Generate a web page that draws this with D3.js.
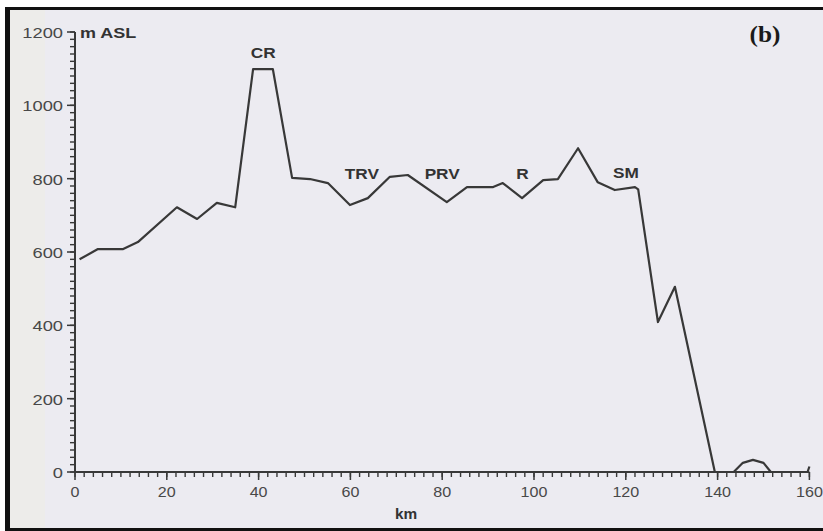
<!DOCTYPE html>
<html><head><meta charset="utf-8">
<script src="https://cdn.jsdelivr.net/npm/d3@7"></script>
<style>html,body{margin:0;padding:0;background:#fff;}svg{display:block;}</style>
</head><body>
<svg id="c" width="823" height="531"></svg>
<script>
// ---- data ----
const distanceKm = [1, 5, 10.5, 13.7, 22.2, 26.6, 30.9, 34.9, 38.8, 43.1, 47.3, 51.2, 55.1, 59.9, 63.8, 68.6, 72.5, 81.0, 85.4, 91.1, 93.2, 97.4, 102, 105.2, 109.6, 113.9, 117.6, 122, 122.7, 127, 130.7, 139.4, 143.5, 145.5, 147.7, 150, 151.6, 159.6, 160];
const elevationM = [580, 608, 608, 627, 722, 690, 734, 722, 1099, 1099, 802, 799, 788, 728, 747, 805, 810, 736, 777, 777, 788, 747, 796, 799, 883, 790, 769, 777, 771, 409, 505, 0, 0, 25, 33, 25, 0, 0, 15];
const regionLabels = ["CR", "TRV", "PRV", "R", "SM"];
const regionKm = [41, 62.5, 80, 97.5, 120];
const regionElev = [1145, 815, 815, 815, 818];
const yTickValues = [0, 200, 400, 600, 800, 1000, 1200];
const xTickValues = [0, 20, 40, 60, 80, 100, 120, 140, 160];
const yMinorTicks = d3.range(0, 1201, 20);
const xMinorTicks = d3.range(0, 161, 2);
const yUnit = "m ASL";
const xUnit = "km";
const panelTag = "(b)";

// ---- layout ----
const svg = d3.select("#c");
svg.append("rect").attr("x", 0).attr("y", 0).attr("width", 823).attr("height", 531).attr("fill", "#fff");
svg.append("rect").attr("x", 9).attr("y", 9).attr("width", 814).attr("height", 520).attr("fill", "#ecebf1");
svg.append("rect").attr("x", 9).attr("y", 9).attr("width", 36).attr("height", 520).attr("fill", "#eeece9").attr("opacity", 0.8);

const x = d3.scaleLinear().domain([0, 160]).range([75, 809.4]);
const y = d3.scaleLinear().domain([0, 1200]).range([472, 32]);
const ink = "#383838";

function stretchText(g, tx, ty, str, opts) {
  return g.append("text")
    .attr("transform", `translate(${tx},${ty}) scale(${opts.sx || 1},1)`)
    .attr("text-anchor", opts.anchor || "middle")
    .attr("dominant-baseline", "central")
    .attr("font-family", opts.family || "Liberation Sans, Arial, sans-serif")
    .attr("font-size", opts.size)
    .attr("font-weight", opts.weight || "normal")
    .attr("fill", opts.fill || ink)
    .text(str);
}

// y axis ticks
const axes = svg.append("g").attr("stroke", ink);
axes.selectAll("line.ymin").data(yMinorTicks).join("line").attr("class", "ymin")
  .attr("x1", x(0) - 5).attr("x2", x(0)).attr("y1", d => y(d)).attr("y2", d => y(d)).attr("stroke-width", 1.4);
axes.selectAll("line.ymaj").data(yTickValues).join("line").attr("class", "ymaj")
  .attr("x1", x(0) - 8).attr("x2", x(0)).attr("y1", d => y(d)).attr("y2", d => y(d)).attr("stroke-width", 1.5);
axes.append("line").attr("x1", x(0)).attr("x2", x(0)).attr("y1", y(1200)).attr("y2", y(0)).attr("stroke-width", 2);
// x axis ticks
axes.selectAll("line.xmin").data(xMinorTicks).join("line").attr("class", "xmin")
  .attr("x1", d => x(d)).attr("x2", d => x(d)).attr("y1", y(0)).attr("y2", y(0) + 5).attr("stroke-width", 1.4);
axes.selectAll("line.xmaj").data(xTickValues).join("line").attr("class", "xmaj")
  .attr("x1", d => x(d)).attr("x2", d => x(d)).attr("y1", y(0)).attr("y2", y(0) + 8).attr("stroke-width", 1.5);
axes.append("line").attr("x1", x(0) - 1).attr("x2", x(160)).attr("y1", y(0)).attr("y2", y(0)).attr("stroke-width", 2);

yTickValues.forEach(v => stretchText(svg, 63, y(v) + 1, String(v), {size: 15, sx: 1.22, anchor: "end", fill: "#484848"}));
xTickValues.forEach(v => stretchText(svg, x(v), 492, String(v), {size: 14, sx: 1.15, fill: "#484848"}));

// profile line
const pts = distanceKm.map((d, i) => [d, elevationM[i]]);
svg.append("path").datum(pts)
  .attr("d", d3.line().x(d => x(d[0])).y(d => y(d[1])))
  .attr("fill", "none").attr("stroke", ink).attr("stroke-width", 2.2).attr("stroke-linejoin", "round");

// labels
regionLabels.forEach((t, i) => stretchText(svg, x(regionKm[i]), y(regionElev[i]), t, {size: 15, sx: 1.15, weight: "bold", fill: "#333"}));
stretchText(svg, 80, 33, yUnit, {size: 15, sx: 1.2, weight: "bold", anchor: "start", fill: "#333"});
stretchText(svg, 406, 514, xUnit, {size: 14, sx: 1.1, weight: "bold", fill: "#333"});
stretchText(svg, 765, 34, panelTag, {size: 23, sx: 1.1, weight: "bold", family: "Liberation Serif, Times New Roman, serif", fill: "#1a1a1a"});

// frame
svg.append("line").attr("x1", 5).attr("x2", 823).attr("y1", 8.5).attr("y2", 8.5).attr("stroke", "#111").attr("stroke-width", 3);
svg.append("line").attr("x1", 7.5).attr("x2", 7.5).attr("y1", 7).attr("y2", 531).attr("stroke", "#111").attr("stroke-width", 5);
svg.append("line").attr("x1", 5).attr("x2", 823).attr("y1", 529.5).attr("y2", 529.5).attr("stroke", "#111").attr("stroke-width", 3);
</script>
</body></html>
